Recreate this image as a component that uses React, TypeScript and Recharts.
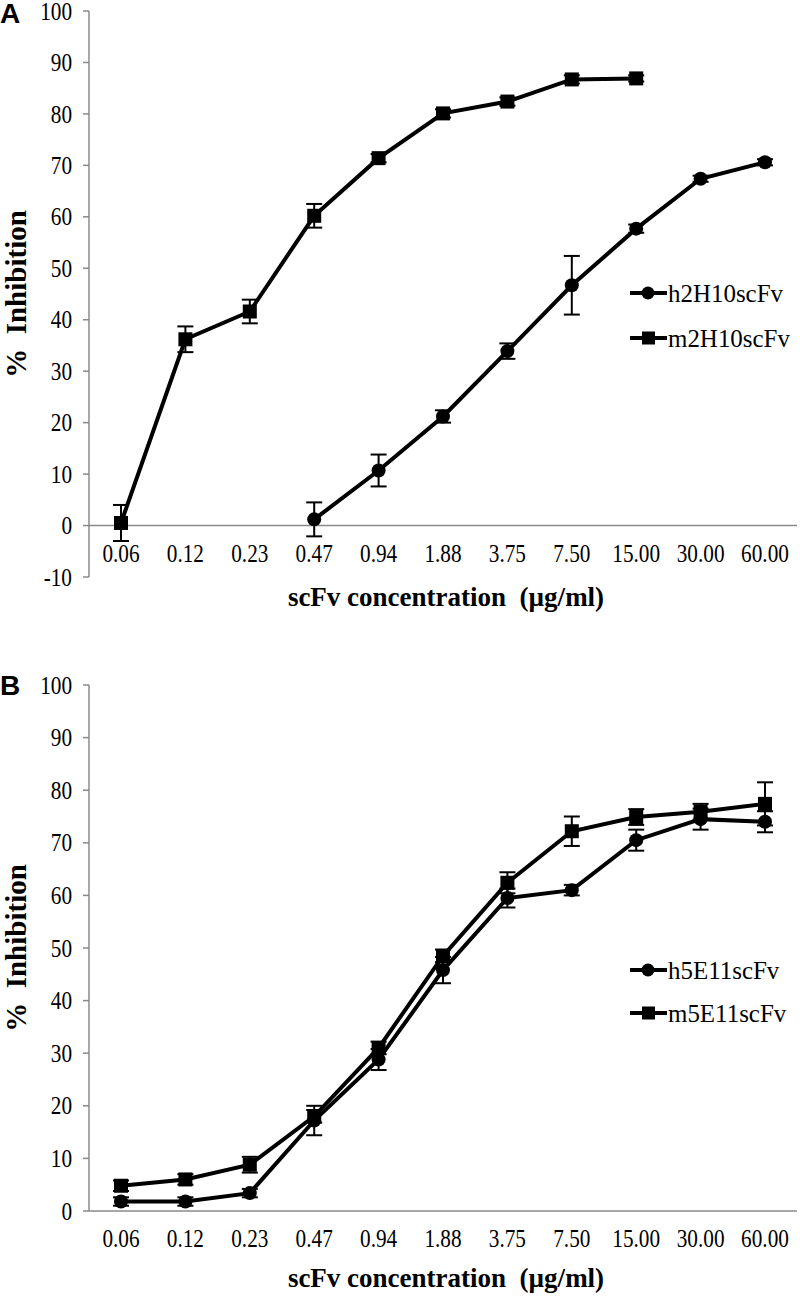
import React from "react";
import { LineChart, Line, XAxis, YAxis, ErrorBar, ReferenceLine, Legend } from "recharts";

// x categories: scFv concentration (µg/ml)
const concentrations = ["0.06", "0.12", "0.23", "0.47", "0.94", "1.88", "3.75", "7.50", "15.00", "30.00", "60.00"];

// panel A
const h2H10 = [null, null, null, 1.2, 10.7, 21.2, 33.9, 46.7, 57.7, 67.4, 70.6];
const h2H10Err = [null, null, null, 3.3, 3.1, 1.2, 1.5, 5.7, 0.8, 0.6, 0.6];
const m2H10 = [0.5, 36.2, 41.6, 60.2, 71.4, 80.1, 82.4, 86.7, 86.9, null, null];
const m2H10Err = [3.5, 2.5, 2.3, 2.3, 0.8, 0.8, 0.8, 0.8, 0.6, null, null];

// panel B
const h5E11 = [1.8, 1.8, 3.4, 17.2, 28.8, 45.8, 59.5, 61.0, 70.5, 74.5, 74.0];
const h5E11Err = [0.8, 0.8, 0.8, 2.8, 2.0, 2.5, 1.8, 1.0, 2.0, 2.0, 2.0];
const m5E11 = [4.8, 6.0, 8.8, 18.0, 31.0, 48.5, 62.4, 72.2, 74.9, 75.9, 77.4];
const m5E11Err = [1.0, 1.0, 1.5, 1.2, 1.2, 1.2, 2.0, 2.8, 1.5, 1.5, 4.1];

const ticksA = [-10, 0, 10, 20, 30, 40, 50, 60, 70, 80, 90, 100];
const ticksB = [0, 10, 20, 30, 40, 50, 60, 70, 80, 90, 100];

const X_TITLE = "scFv concentration  (µg/ml)";
const Y_TITLE = "%  Inhibition";

const GREY = "#8a8a8a";
const SERIF = '"Liberation Serif", "Times New Roman", serif';

function buildRows(h: any[], hErr: any[], m: any[], mErr: any[]) {
  return concentrations.map((c, i) => ({ conc: c, h: h[i], hErr: hErr[i], m: m[i], mErr: mErr[i] }));
}

// the source figure is squashed horizontally, so text is drawn narrower
function SqText({ x, y, anchor, size, sx, bold, rotate, children }: any) {
  const rot = rotate ? ` rotate(${rotate})` : "";
  return (
    <text
      transform={`translate(${x},${y})${rot} scale(${sx},1)`}
      textAnchor={anchor}
      dominantBaseline="central"
      fontFamily={SERIF}
      fontSize={size}
      fontWeight={bold ? "bold" : "normal"}
      fill="#000"
      style={{ whiteSpace: "pre" }}
    >
      {children}
    </text>
  );
}

const circleDot = (p: any) =>
  Number.isFinite(p.cy) && p.value != null ? (
    <circle key={p.index} cx={p.cx} cy={p.cy} r={7} fill="#000" />
  ) : (
    <g key={p.index} />
  );

const squareDot = (p: any) =>
  Number.isFinite(p.cy) && p.value != null ? (
    <rect key={p.index} x={p.cx - 7} y={p.cy - 7} width={14} height={14} fill="#000" />
  ) : (
    <g key={p.index} />
  );

function SeriesLegend({ payload, gap }: any) {
  const items = payload || [];
  return (
    <svg width={175} height={gap + 40}>
      {items.map((e: any, i: number) => {
        const cy = 20 + i * gap;
        return (
          <g key={e.value}>
            <line x1={5} x2={42} y1={cy} y2={cy} stroke="#000" strokeWidth={4} />
            {i === 0 ? (
              <circle cx={23} cy={cy} r={6.5} fill="#000" />
            ) : (
              <rect x={17} y={cy - 6.5} width={13} height={13} fill="#000" />
            )}
            <SqText x={43} y={cy} anchor="start" size={26} sx={0.96}>
              {e.value}
            </SqText>
          </g>
        );
      })}
    </svg>
  );
}

function Panel({ letter, top, height, plotTop, plotBottom, yDomain, yTicks, rows, hName, mName, legendTop, legendGap, tickDy, titleY }: any) {
  const yTick = (p: any) => (
    <SqText x={p.x} y={p.y} anchor="end" size={25} sx={0.85}>
      {p.payload.value}
    </SqText>
  );
  const xTick = (p: any) => (
    <SqText x={p.x} y={p.y + tickDy} anchor="middle" size={25} sx={0.85}>
      {p.payload.value}
    </SqText>
  );
  const yCenter = (plotTop + plotBottom) / 2;

  return (
    <div style={{ position: "absolute", left: 0, top, width: 800, height }}>
      <LineChart
        width={800}
        height={height}
        data={rows}
        margin={{ top: plotTop, right: 3, left: 29, bottom: height - plotBottom - 1 }}
      >
        <XAxis
          dataKey="conc"
          height={1}
          padding={{ left: 32, right: 32 }}
          axisLine={false}
          tickLine={false}
          tickSize={0}
          tickMargin={0}
          interval={0}
          tick={xTick}
          label={{
            content: () => (
              <SqText x={446} y={titleY} anchor="middle" size={27} sx={1} bold>
                {X_TITLE}
              </SqText>
            ),
          }}
        />
        <YAxis
          width={60}
          domain={yDomain}
          ticks={yTicks}
          interval={0}
          allowDataOverflow
          axisLine={{ stroke: GREY, strokeWidth: 1.5 }}
          tickLine={{ stroke: GREY, strokeWidth: 1.5 }}
          tickSize={6}
          tickMargin={11}
          tick={yTick}
          label={{
            content: () => (
              <SqText x={16} y={yCenter} anchor="middle" size={29} sx={1} bold rotate={-90}>
                {Y_TITLE}
              </SqText>
            ),
          }}
        />
        <ReferenceLine y={0} stroke={GREY} strokeWidth={1.5} />
        <Legend
          layout="vertical"
          align="center"
          verticalAlign="middle"
          wrapperStyle={{ left: 625, top: legendTop, width: 175 }}
          content={(props: any) => <SeriesLegend payload={props.payload} gap={legendGap} />}
        />
        <Line
          type="linear"
          dataKey="h"
          name={hName}
          stroke="#000"
          strokeWidth={4}
          dot={circleDot}
          activeDot={false}
          isAnimationActive={false}
        >
          <ErrorBar dataKey="hErr" width={8} strokeWidth={2} stroke="#000" direction="y" />
        </Line>
        <Line
          type="linear"
          dataKey="m"
          name={mName}
          stroke="#000"
          strokeWidth={4}
          dot={squareDot}
          activeDot={false}
          isAnimationActive={false}
        >
          <ErrorBar dataKey="mErr" width={8} strokeWidth={2} stroke="#000" direction="y" />
        </Line>
      </LineChart>
      <div
        style={{
          position: "absolute",
          left: 0,
          top: letter === "A" ? 0 : 32,
          fontFamily: '"Liberation Sans", Arial, sans-serif',
          fontWeight: "bold",
          fontSize: 28,
          lineHeight: 1,
        }}
      >
        {letter}
      </div>
    </div>
  );
}

export default function App() {
  return (
    <div style={{ position: "absolute", left: 0, top: 0, width: 800, height: 1296, background: "#fff" }}>
      <Panel
        letter="A"
        top={0}
        height={630}
        plotTop={11}
        plotBottom={577}
        yDomain={[-10, 100]}
        yTicks={ticksA}
        rows={buildRows(h2H10, h2H10Err, m2H10, m2H10Err)}
        hName="h2H10scFv"
        mName="m2H10scFv"
        legendTop={273}
        legendGap={45}
        tickDy={-24}
        titleY={597}
      />
      <Panel
        letter="B"
        top={640}
        height={656}
        plotTop={45}
        plotBottom={571}
        yDomain={[0, 100]}
        yTicks={ticksB}
        rows={buildRows(h5E11, h5E11Err, m5E11, m5E11Err)}
        hName="h5E11scFv"
        mName="m5E11scFv"
        legendTop={310}
        legendGap={43}
        tickDy={27}
        titleY={638}
      />
    </div>
  );
}
